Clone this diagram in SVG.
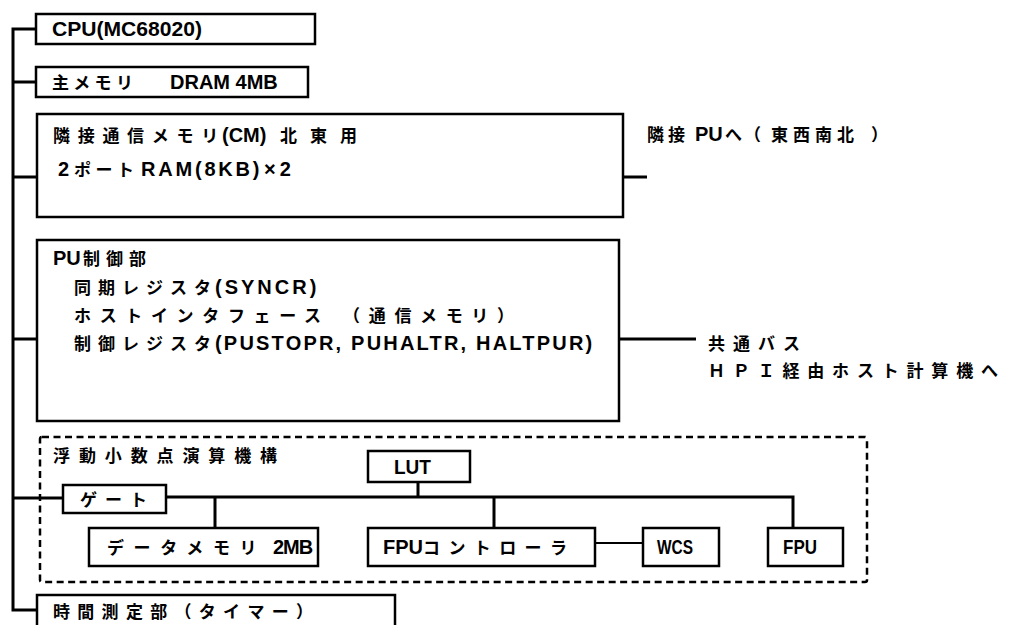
<svg xmlns="http://www.w3.org/2000/svg" width="1013" height="625" viewBox="0 0 1013 625">
<style>
.b{fill:#fff;stroke:#000;stroke-width:2.5}
.d{fill:none;stroke:#000;stroke-width:2.5;stroke-dasharray:7 4.5}
.w{fill:none;stroke:#000;stroke-width:3}
.n{fill:none;stroke:#000;stroke-width:1.8}
.t{font-family:"Liberation Sans","Noto Sans CJK JP",sans-serif;font-size:17px;font-weight:bold;fill:#000}
.l{font-size:20px}
</style>
<rect width="1013" height="625" fill="#fff"/>
<g id="connectors">
<path class="w" d="M36 29H13V610H37"/>
<path class="w" d="M13 82H36M13 177H37M13 339H37M13 498H63"/>
<path class="w" d="M623 177H647M619 339H696"/>
<path class="w" d="M166 497H793V528M418 482V497M215 497V528M494 497V528"/>
<path class="n" d="M595 543H643"/>
</g>
<g id="cpu"><rect class="b" x="36" y="14" width="279" height="30"/><text class="t l" x="52" y="36" textLength="150" lengthAdjust="spacingAndGlyphs">CPU(MC68020)</text></g>
<g id="mainmem"><rect class="b" x="36" y="67" width="272" height="30"/><text class="t" y="89"><tspan x="52" letter-spacing="4.3">主メモリ</tspan> <tspan class="l" x="170">DRAM 4MB</tspan></text></g>
<g id="cm"><rect class="b" x="37" y="114" width="586" height="103"/>
<text class="t" y="142"><tspan x="53" letter-spacing="7.7">隣接通信メモリ</tspan><tspan class="l" x="222">(CM)</tspan> <tspan x="280" letter-spacing="13">北東用</tspan></text>
<text class="t" y="176"><tspan class="l" x="58">2</tspan><tspan x="74" letter-spacing="4.5">ポート</tspan><tspan class="l" x="141" letter-spacing="2.8">RAM(8KB)</tspan><tspan class="l" x="264" letter-spacing="4">×2</tspan></text></g>
<g id="pu"><rect class="b" x="37" y="240" width="582" height="181"/>
<text class="t" y="265"><tspan class="l" x="53">PU</tspan><tspan x="83" letter-spacing="6">制御部</tspan></text>
<text class="t" y="294"><tspan x="74" letter-spacing="7">同期レジスタ</tspan><tspan class="l" x="215" letter-spacing="3">(SYNCR)</tspan></text>
<text class="t" x="74" y="322" textLength="440" lengthAdjust="spacing">ホストインタフェース （通信メモリ）</text>
<text class="t" y="350"><tspan x="74" letter-spacing="7">制御レジスタ</tspan><tspan class="l" x="215" letter-spacing="2.2">(PUSTOPR, PUHALTR, HALTPUR)</tspan></text></g>
<g id="labels">
<text class="t" y="141"><tspan x="647" letter-spacing="4">隣接</tspan> <tspan class="l" x="695">PU</tspan><tspan x="725">へ</tspan><tspan x="744">（</tspan><tspan x="771" letter-spacing="5">東西南北</tspan><tspan x="871">）</tspan></text>
<text class="t" x="708" y="350" textLength="92" lengthAdjust="spacing">共通バス</text>
<text class="t" x="708" y="377" textLength="290" lengthAdjust="spacing">ＨＰＩ経由ホスト計算機へ</text>
</g>
<g id="fpunit"><rect class="d" x="40" y="437" width="827" height="145" rx="2"/>
<text class="t" x="53" y="462" font-size="18" textLength="224" lengthAdjust="spacing">浮動小数点演算機構</text></g>
<g id="lut"><rect class="b" x="368" y="451" width="102" height="31"/><text class="t l" x="394" y="474" textLength="37" lengthAdjust="spacingAndGlyphs">LUT</text></g>
<g id="gate"><rect class="b" x="63" y="485" width="103" height="28"/><text class="t" x="80" y="506" textLength="67" lengthAdjust="spacing">ゲート</text></g>
<g id="datamem"><rect class="b" x="89" y="528" width="229" height="38"/><text class="t" y="554"><tspan x="107" letter-spacing="9.6">データメモリ</tspan> <tspan class="l" x="273" letter-spacing="-1">2MB</tspan></text></g>
<g id="fpuctl"><rect class="b" x="368" y="528" width="227" height="38"/><text class="t" y="554"><tspan class="l" x="383">FPU</tspan><tspan x="423" letter-spacing="8.4">コントローラ</tspan></text></g>
<g id="wcs"><rect class="b" x="643" y="528" width="76" height="38"/><text class="t l" x="657" y="554" textLength="36" lengthAdjust="spacingAndGlyphs">WCS</text></g>
<g id="fpu"><rect class="b" x="768" y="528" width="75" height="38"/><text class="t l" x="783" y="554" textLength="34" lengthAdjust="spacingAndGlyphs">FPU</text></g>
<g id="timer"><rect class="b" x="37" y="595" width="358" height="40"/><text class="t" x="53" y="618" textLength="260" lengthAdjust="spacing">時間測定部（タイマー）</text></g>
</svg>
